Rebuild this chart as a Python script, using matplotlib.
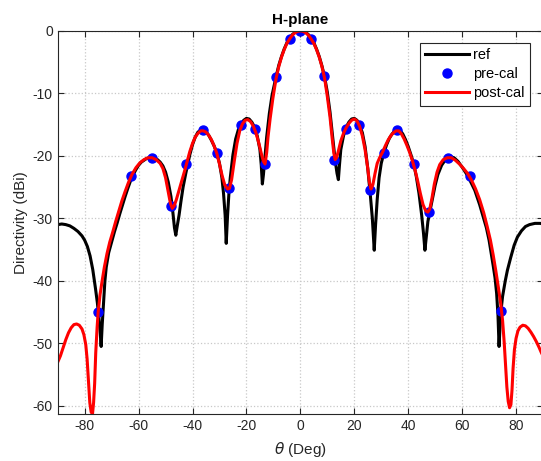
import matplotlib
matplotlib.use("Agg")
import matplotlib.pyplot as plt

plt.rcParams['font.family'] = ['Liberation Sans', 'DejaVu Sans']
plt.rcParams['mathtext.fontset'] = 'dejavusans'
plt.rcParams['axes.unicode_minus'] = False

# reference pattern (theta deg, dBi)
ref_th = [-90, -88.5, -87, -85.5, -84, -82.5, -81, -80, -79, -78, -77, -76, -75.3, -74.7, -74.2, -73.9,
          -73.5, -73, -72.5, -72, -71.1, -70, -69, -68, -67, -66, -65, -64, -63, -62, -61, -60, -59,
          -58, -57, -56, -55, -54, -53, -52, -51, -50, -49, -48, -47.3, -46.7, -46.2, -45.7, -45,
          -44.3, -43.5, -42.5, -42, -41, -40, -39, -38, -37, -36, -35, -34, -33, -32, -31, -30,
          -29.1, -28.5, -27.9, -27.5, -27, -26.5, -26, -25, -24, -23, -22, -21, -20, -19, -18, -17,
          -16, -15, -14.5, -14.1, -13.7, -13.1, -12.5, -11.5, -10.5, -9, -8, -7, -6, -5, -4, -3, -2,
          -1, 0, 1, 2, 3, 4, 5, 6, 7, 8, 9, 10, 11, 12, 12.9, 13.6, 14.1, 14.5, 15, 16, 17, 18, 19,
          20, 21, 22, 23, 24, 25, 26, 26.7, 27.4, 27.9, 28.5, 29.2, 30, 31, 32, 33, 34, 35, 36, 37,
          38, 39, 40, 41, 42, 43, 44, 45, 45.7, 46.2, 46.7, 47.3, 48, 49, 50, 51, 52.4, 54, 55.4, 57,
          58.5, 60, 61.5, 63, 64.7, 66.5, 68, 69, 70, 70.6, 71.5, 72.2, 72.8, 73.3, 73.7, 74.1, 74.5,
          75, 76, 76.8, 78, 79.3, 80.5, 82, 83.5, 85, 87, 89, 90]
ref_db = [-31.0, -30.9, -31.0, -31.2, -31.6, -32.1, -32.8, -33.5, -34.5, -36.0, -38.2, -41.2, -43.5, -46.0, -48.5, -50.5,
          -47.0, -43.5, -40.0, -37.8, -35.5, -33.8, -32.2, -30.8, -29.3, -27.9, -26.5, -25.2, -24.0, -23.0, -22.2, -21.5, -21.0,
          -20.7, -20.4, -20.3, -20.3, -20.4, -20.6, -21.0, -21.6, -22.6, -24.2, -26.5, -29.0, -31.5, -32.7, -31.3, -29.5,
          -27.3, -25.0, -22.8, -21.8, -19.8, -18.2, -17.0, -16.2, -15.9, -15.9, -16.1, -16.7, -17.5, -18.4, -19.5, -21.2,
          -23.5, -26.0, -29.5, -34.0, -29.5, -26.0, -23.5, -19.8, -17.3, -15.8, -14.9, -14.3, -14.0, -14.1, -14.6, -15.4,
          -16.8, -19.0, -21.5, -24.5, -23.0, -20.0, -17.0, -13.2, -10.3, -7.3, -5.5, -4.1, -2.9, -1.9, -1.2, -0.6, -0.25,
          -0.05, 0.0, -0.05, -0.25, -0.6, -1.2, -1.9, -2.9, -4.1, -5.6, -7.4, -9.8, -13.0, -17.0, -20.7, -22.8, -23.8, -21.5, -19.0, -16.8, -15.4, -14.6, -14.1,
          -14.0, -14.3, -15.1, -16.3, -18.5, -22.0, -26.5, -30.0, -35.1, -31.0, -27.0, -23.5, -21.2, -19.5, -18.2, -17.2, -16.5, -16.0, -15.8, -15.9,
          -16.5, -17.4, -18.5, -19.8, -21.2, -23.3, -26.0, -29.5, -32.5, -35.1, -33.0, -30.5, -29.0, -26.8, -24.7, -23.0, -21.5, -20.5, -20.1, -20.3,
          -20.9, -21.8, -22.8, -24.0, -25.5, -27.8, -30.0, -31.5, -33.5, -35.1, -37.5, -39.5, -42.0, -45.5, -50.5, -47.0, -44.5,
          -42.5, -40.0, -38.3, -36.3, -34.3, -33.0, -32.0, -31.3, -31.0, -30.8, -30.8, -30.9]

# pre-calibration samples
pre_th = [-75.0, -63.0, -55.0, -47.8, -42.4, -36.1, -31.0, -26.3, -22.0, -16.9, -13.1, -9.0, -4.0,
          0.0, 3.9, 8.9, 12.6, 16.9, 21.7, 25.8, 31.0, 35.7, 42.2, 47.7, 54.8, 62.9, 74.6]
pre_db = [-45.0, -23.2, -20.4, -28.1, -21.3, -15.9, -19.5, -25.2, -15.1, -15.7, -21.3, -7.3, -1.3,
          0.0, -1.3, -7.2, -20.6, -15.7, -15.1, -25.4, -19.5, -15.9, -21.3, -29.0, -20.4, -23.2, -44.9]

# post-calibration pattern
post_th = [-90, -89, -88, -87, -86, -85, -84, -83, -82, -81, -80.3, -79.6, -79.1, -78.6, -78.1, -77.6,
           -77.1, -76.7, -76.3, -75.9, -75.4, -75, -74.3, -73.6, -72.7, -71.7, -70.7, -69.6, -68.5,
           -67.3, -66.2, -65, -63.8, -62.5, -61, -59.5, -58, -56.5, -55, -53.5, -52, -51, -50, -49,
           -48.2, -47.5, -46.8, -46, -45, -44, -43, -42, -41, -40, -39, -38, -37, -36, -35, -34, -33,
           -32, -31, -30, -29, -28, -27, -26.3, -25.5, -24.5, -23.5, -22.5, -21.5, -20.5, -19.5,
           -18.5, -17.5, -16.5, -15.5, -14.5, -13.7, -13.1, -12.5, -12, -11.2, -10.2, -9, -8, -7, -6,
           -5, -4, -3, -2, -1, 0, 1, 2, 3, 4, 5, 6, 7, 8, 9, 10, 11, 11.8, 12.4, 12.9, 13.4, 14, 15, 16,
           17, 18, 19, 20, 21, 22, 23, 24, 25, 25.6, 26.2, 26.9, 27.7, 28.5, 29.5, 30.5, 31.5, 32.5,
           33.5, 34.5, 35.5, 36.5, 37.5, 38.5, 39.5, 40.5, 41.5, 42.5, 43.5, 44.5, 45.5, 46.5, 47.3,
           48, 48.8, 49.7, 50.7, 51.7, 53, 54.5, 56, 57.5, 59, 60.5, 62, 63.5, 65, 66.5, 68, 69.3, 70.5,
           71.5, 72.5, 73.5, 74.3, 75, 75.6, 76.1, 76.6, 77.1, 77.6, 78.1, 78.5, 78.9, 79.4, 80, 80.7,
           81.5, 82.5, 83.5, 84.5, 85.5, 86.5, 87.5, 88.5, 89.3, 90]
post_db = [-53.0, -52.0, -50.7, -49.4, -48.3, -47.5, -47.0, -46.9, -47.1, -47.7, -48.6, -50.2, -52.5, -56.0, -59.5, -61.0,
           -61.3, -59.5, -56.4, -51.5, -47.5, -45.0, -42.2, -40.2, -37.8, -35.6, -33.8, -32.2, -30.5,
           -28.8, -27.2, -25.7, -24.3, -23.0, -21.9, -21.1, -20.6, -20.3, -20.3, -20.6, -21.2, -22.0, -23.5, -25.8,
           -27.6, -28.4, -28.0, -27.0, -25.5, -24.0, -22.5, -20.9, -19.3, -18.0, -17.0, -16.4, -16.0, -16.0, -16.2, -16.7, -17.4,
           -18.4, -19.6, -21.3, -23.2, -24.7, -25.3, -25.2, -23.8, -20.8, -18.0, -16.0, -14.9, -14.3, -14.2,
           -14.5, -15.2, -16.3, -17.8, -19.6, -20.9, -21.3, -19.5, -17.0, -14.0, -10.8, -7.6, -5.7, -4.2, -3.0,
           -2.0, -1.3, -0.7, -0.3, -0.07, 0.0, -0.07, -0.3, -0.7, -1.3, -2.0, -3.0, -4.2, -5.7, -7.6, -10.5, -13.8, -17.2, -19.5, -20.6, -20.3, -19.4, -17.6, -16.4,
           -15.5, -14.8, -14.3, -14.1, -14.4, -15.3, -16.8, -19.0, -22.0, -24.2, -25.3, -24.6, -22.8, -21.2, -20.2, -19.4, -18.4, -17.5,
           -16.8, -16.3, -16.0, -16.0, -16.5, -17.3, -18.3, -19.4, -20.7, -22.2, -24.0, -26.0, -27.8, -28.8, -29.0,
           -28.5, -26.8, -24.5, -22.6, -21.4, -20.6, -20.3, -20.3, -20.7, -21.3, -22.0, -22.8, -23.9, -25.3, -27.0, -29.1, -31.3, -33.5,
           -35.8, -38.4, -41.2, -43.6, -46.3, -49.8, -53.5, -57.0, -59.3, -60.3, -59.8, -57.5, -54.0, -51.0, -49.2, -48.0,
           -47.4, -47.1, -47.2, -47.6, -48.2, -48.9, -49.7, -50.6, -51.4, -52.0]

fig = plt.figure(figsize=(5.41, 4.61), dpi=100)
ax = fig.add_axes([0.1067, 0.102, 0.897, 0.831])

ax.plot(ref_th, ref_db, color='k', lw=2.2, label='ref')
ax.plot(pre_th, pre_db, 'o', color='#0000ff', ms=6.5, label='pre-cal')
ax.plot(post_th, post_db, color='#ff0000', lw=2.2, label='post-cal')

ax.set_xlim(-90, 90)
ax.set_ylim(-61.3, 0)
ax.set_xticks(range(-80, 81, 20))
ax.set_yticks(range(-60, 1, 10))
ax.tick_params(direction='in', top=True, right=True, labelsize=10, colors='#262626', length=4)
for s in ax.spines.values():
    s.set_color('#262626')
ax.grid(True, color='#c8c8c8', linestyle=':', lw=0.9)

ax.set_title('H-plane', fontsize=11, fontweight='bold', pad=5)
ax.set_xlabel(r'$\theta$ (Deg)', fontsize=11, color='#262626', labelpad=5)
ax.set_ylabel('Directivity (dBi)', fontsize=11, color='#262626', labelpad=3)

leg = ax.legend(loc='upper right', bbox_to_anchor=(0.973, 0.968), fontsize=10.5, fancybox=False,
                framealpha=1, edgecolor='#262626', handlelength=3.0, borderpad=0.35,
                labelspacing=0.35, handletextpad=0.3, borderaxespad=0)
leg.get_frame().set_linewidth(0.8)

fig.savefig('out.png', dpi=100)
